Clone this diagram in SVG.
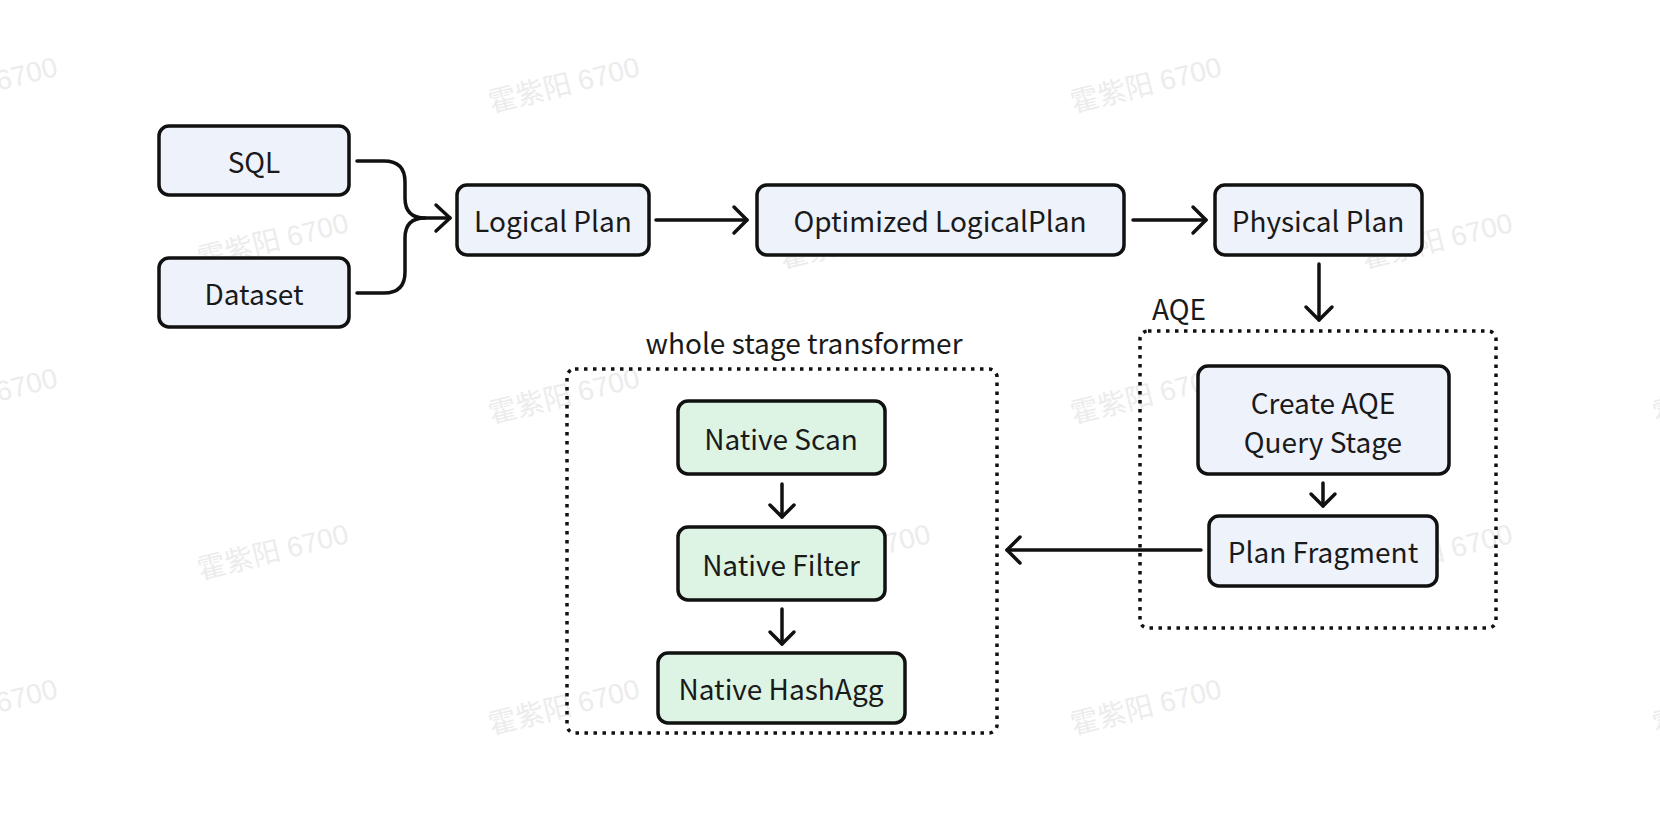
<svg xmlns="http://www.w3.org/2000/svg" width="1660" height="818" viewBox="0 0 1660 818">
<defs>
<style>
.bg{fill:#ffffff}
.wm{font-family:"Liberation Sans","Noto Sans CJK SC",sans-serif;font-size:28px;fill:#ececec;text-anchor:middle;dominant-baseline:central}
.node rect{stroke:#111;stroke-width:3.5}
.blue rect{fill:#eef2fb}
.green rect{fill:#ddf4e4}
.lbl{font-family:"Noto Sans CJK SC","Noto Sans",sans-serif;font-size:28px;fill:#1a1a1a;text-anchor:middle;dominant-baseline:central}
.title{font-family:"Noto Sans CJK SC","Noto Sans",sans-serif;font-size:28px;fill:#1a1a1a}
.grp{fill:none;stroke:#111;stroke-width:3.5;stroke-dasharray:3.5 5.5}
.conn path,.conn polyline{fill:none;stroke:#111;stroke-width:3.5;stroke-linecap:round;stroke-linejoin:round}
</style>
</defs>
<rect class="bg" width="1660" height="818"/>
<g id="watermarks">
<text class="wm" x="-18" y="85" transform="rotate(-14 -18 85)">霍紫阳 6700</text>
<text class="wm" x="564" y="85" transform="rotate(-14 564 85)">霍紫阳 6700</text>
<text class="wm" x="1146" y="85" transform="rotate(-14 1146 85)">霍紫阳 6700</text>
<text class="wm" x="273" y="241" transform="rotate(-14 273 241)">霍紫阳 6700</text>
<text class="wm" x="855" y="241" transform="rotate(-14 855 241)">霍紫阳 6700</text>
<text class="wm" x="1437" y="241" transform="rotate(-14 1437 241)">霍紫阳 6700</text>
<text class="wm" x="-18" y="396" transform="rotate(-14 -18 396)">霍紫阳 6700</text>
<text class="wm" x="564" y="396" transform="rotate(-14 564 396)">霍紫阳 6700</text>
<text class="wm" x="1146" y="396" transform="rotate(-14 1146 396)">霍紫阳 6700</text>
<text class="wm" x="1728" y="396" transform="rotate(-14 1728 396)">霍紫阳 6700</text>
<text class="wm" x="273" y="552" transform="rotate(-14 273 552)">霍紫阳 6700</text>
<text class="wm" x="855" y="552" transform="rotate(-14 855 552)">霍紫阳 6700</text>
<text class="wm" x="1437" y="552" transform="rotate(-14 1437 552)">霍紫阳 6700</text>
<text class="wm" x="-18" y="707" transform="rotate(-14 -18 707)">霍紫阳 6700</text>
<text class="wm" x="564" y="707" transform="rotate(-14 564 707)">霍紫阳 6700</text>
<text class="wm" x="1146" y="707" transform="rotate(-14 1146 707)">霍紫阳 6700</text>
<text class="wm" x="1728" y="707" transform="rotate(-14 1728 707)">霍紫阳 6700</text>
</g>
<g id="group-aqe">
<rect class="grp" x="1140" y="331" width="356" height="297" rx="8"/>
<text class="title" x="1152" y="320">AQE</text>
</g>
<g id="group-wst">
<rect class="grp" x="567" y="369" width="430" height="364" rx="8"/>
<text class="title" x="804" y="354" text-anchor="middle">whole stage transformer</text>
</g>
<g class="conn" id="connectors">
<path d="M357,161 H384 Q405,161 405,182 V198 Q405,218 425,218 H450"/>
<path d="M357,293 H384 Q405,293 405,272 V238 Q405,218 425,218"/>
<polyline points="436,205 450,218 436,231"/>
<path d="M656,220 H747"/>
<polyline points="734,207 747,220 734,233"/>
<path d="M1133,220 H1206"/>
<polyline points="1193,207 1206,220 1193,233"/>
<path d="M1319,264 V320"/>
<polyline points="1306,307 1319,320 1332,307"/>
<path d="M1323,483 V506"/>
<polyline points="1311,494 1323,506 1335,494"/>
<path d="M1201,550 H1007"/>
<polyline points="1020,537 1007,550 1020,563"/>
<path d="M782,484 V517"/>
<polyline points="770,505 782,517 794,505"/>
<path d="M782,609 V644"/>
<polyline points="770,632 782,644 794,632"/>
</g>
<g id="sql" class="node blue"><rect x="159" y="126" width="190" height="69" rx="10"/><text class="lbl" x="254" y="161">SQL</text></g>
<g id="dataset" class="node blue"><rect x="159" y="258" width="190" height="69" rx="10"/><text class="lbl" x="254" y="293">Dataset</text></g>
<g id="logical-plan" class="node blue"><rect x="457" y="185" width="192" height="70" rx="10"/><text class="lbl" x="553" y="220">Logical Plan</text></g>
<g id="optimized-logical-plan" class="node blue"><rect x="757" y="185" width="367" height="70" rx="10"/><text class="lbl" x="940" y="220">Optimized LogicalPlan</text></g>
<g id="physical-plan" class="node blue"><rect x="1215" y="185" width="207" height="70" rx="10"/><text class="lbl" x="1318" y="220">Physical Plan</text></g>
<g id="create-aqe" class="node blue"><rect x="1198" y="366" width="251" height="108" rx="10"/><text class="lbl" x="1323" y="402">Create AQE</text><text class="lbl" x="1323" y="441">Query Stage</text></g>
<g id="plan-fragment" class="node blue"><rect x="1209" y="516" width="228" height="70" rx="10"/><text class="lbl" x="1323" y="551">Plan Fragment</text></g>
<g id="native-scan" class="node green"><rect x="678" y="401" width="207" height="73" rx="10"/><text class="lbl" x="781" y="438">Native Scan</text></g>
<g id="native-filter" class="node green"><rect x="678" y="527" width="207" height="73" rx="10"/><text class="lbl" x="781" y="564">Native Filter</text></g>
<g id="native-hashagg" class="node green"><rect x="658" y="653" width="247" height="70" rx="10"/><text class="lbl" x="781" y="688">Native HashAgg</text></g>
</svg>
